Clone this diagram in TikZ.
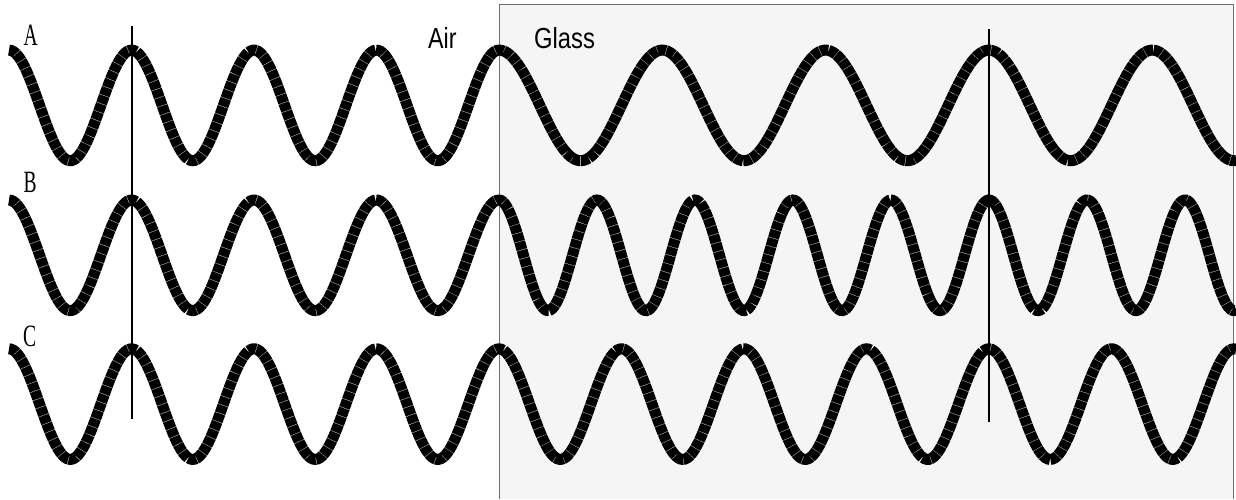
\documentclass[tikz,border=0pt]{standalone}
\usepackage{fontspec}
\setmainfont{Liberation Serif}
\newfontfamily\labelsans{Liberation Sans}
\definecolor{glassfill}{RGB}{244,245,244}
\definecolor{glassedge}{RGB}{110,110,110}
\begin{document}
\begin{tikzpicture}[x=1pt,y=-1pt,
  wave/.style={line width=11pt, black, dash pattern=on 8pt off 0.6pt},
  marker/.style={line width=2.5pt, black},
  serlabel/.style={anchor=base west, inner sep=0pt, font=\fontsize{31}{31}\selectfont},
  sanslabel/.style={anchor=base west, inner sep=0pt, font=\labelsans\fontsize{29}{29}\selectfont}]
\useasboundingbox (0,0) rectangle (1236,499);
% glass block
\fill[glassfill] (499,4.5) rectangle (1233,499);
\draw[glassedge, line width=1pt] (499,499) -- (499,4.5) -- (1233,4.5) -- (1233,499);
% wave A (longer wavelength in glass)
\draw[wave] plot[domain=9:499,samples=220] (\x,{105.4-55.3*cos((\x-9)/122.5*360)})
  -- plot[domain=499:1236,samples=330] (\x,{105.4-55.3*cos((\x-499)/163.33*360)});
% wave B (shorter wavelength in glass)
\draw[wave] plot[domain=9:499,samples=220] (\x,{255.3-55.3*cos((\x-9)/122.5*360)})
  -- plot[domain=499:1236,samples=400] (\x,{255.3-55.3*cos((\x-499)/98*360)});
% wave C (same wavelength)
\draw[wave] plot[domain=9:499,samples=220] (\x,{404.1-55.3*cos((\x-9)/122.5*360)})
  -- plot[domain=499:1236,samples=330] (\x,{404.1-55.3*cos((\x-499)/122.5*360)});
% vertical reference lines
\coordinate (leftTop) at (132,26);
\coordinate (leftBot) at (132,419);
\coordinate (rightTop) at (989,29);
\coordinate (rightBot) at (989,422);
\draw[marker] (leftTop) -- (leftBot);
\draw[marker] (rightTop) -- (rightBot);
% labels
\node[serlabel] (labA) at (23.5,45) {\scalebox{0.63}[1]{A}};
\node[serlabel] (labB) at (23.5,192.3) {\scalebox{0.63}[1]{B}};
\node[serlabel] (labC) at (23,346.5) {\scalebox{0.63}[1]{C}};
\node[sanslabel] (air) at (428,48.3) {\scalebox{0.8}[1]{Air}};
\node[sanslabel] (glass) at (534,48.3) {\scalebox{0.82}[1]{Glass}};
\end{tikzpicture}
\end{document}
